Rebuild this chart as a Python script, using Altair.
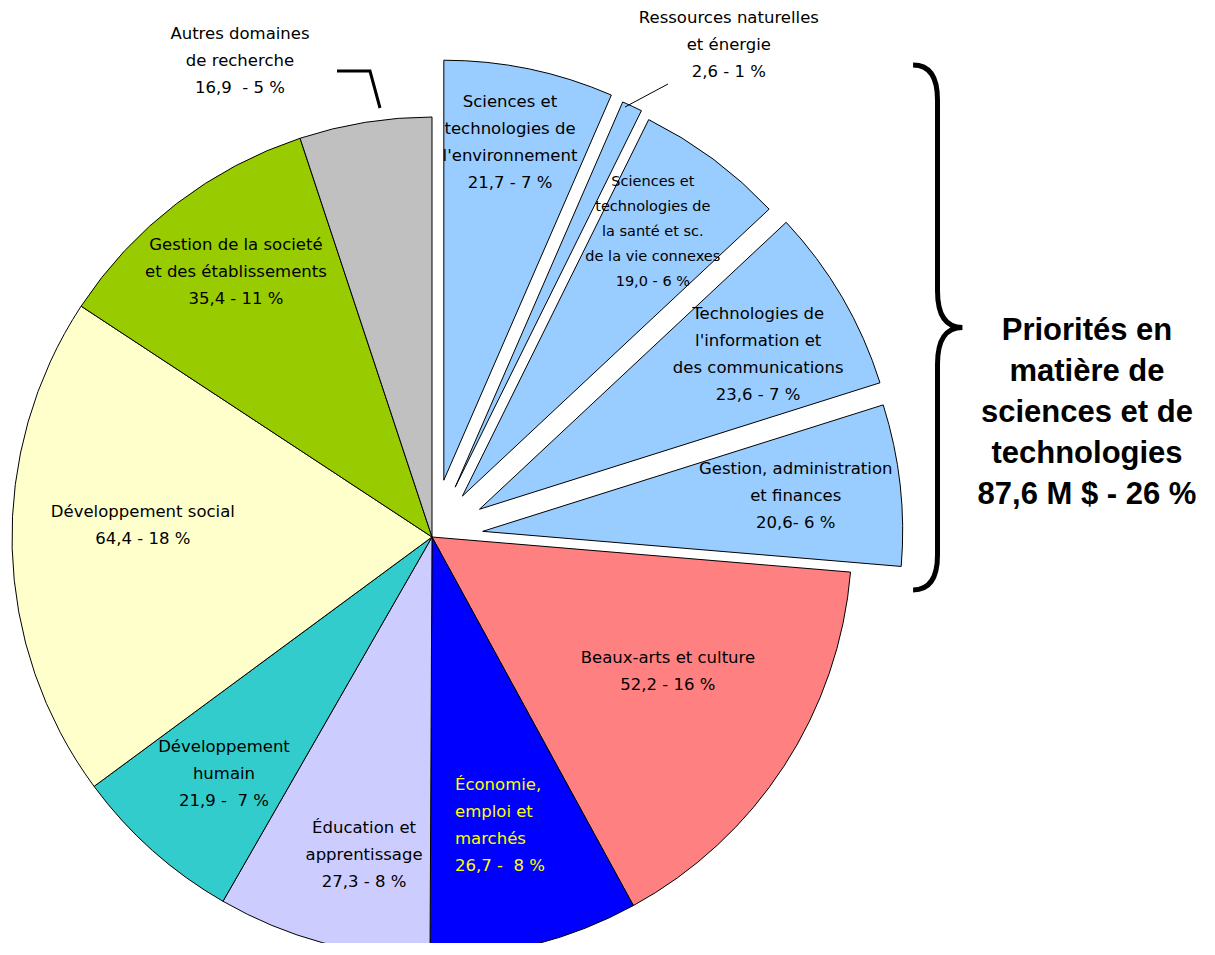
import math
import altair as alt
import pandas as pd

# ---------------- data ----------------
categories = [
    "Sciences et technologies de l'environnement",
    "Ressources naturelles et énergie",
    "Sciences et technologies de la santé et sc. de la vie connexes",
    "Technologies de l'information et des communications",
    "Gestion, administration et finances",
    "Beaux-arts et culture",
    "Économie, emploi et marchés",
    "Éducation et apprentissage",
    "Développement humain",
    "Développement social",
    "Gestion de la societé et des établissements",
    "Autres domaines de recherche",
]
values = [21.7, 2.6, 19.0, 23.6, 20.6, 52.2, 26.7, 27.3, 21.9, 64.4, 35.4, 16.9]
NB = "\u00a0"
label_texts = [
    "Sciences et\ntechnologies de\nl'environnement\n21,7 - 7 %",
    "Ressources naturelles\net énergie\n2,6 - 1 %",
    "Sciences et\ntechnologies de\nla santé et sc.\nde la vie connexes\n19,0 - 6 %",
    "Technologies de\nl'information et\ndes communications\n23,6 - 7 %",
    "Gestion, administration\net finances\n20,6- 6 %",
    "Beaux-arts et culture\n52,2 - 16 %",
    "Économie,\nemploi et\nmarchés\n26,7 -" + NB + " 8 %",
    "Éducation et\napprentissage\n27,3 - 8 %",
    "Développement\nhumain\n21,9 -" + NB + " 7 %",
    "Développement social\n64,4 - 18 %",
    "Gestion de la societé\net des établissements\n35,4 - 11 %",
    "Autres domaines\nde recherche\n16,9" + NB + " - 5 %",
]
title_lines = ["Priorités en", "matière de", "sciences et de", "technologies", "87,6 M $ - 26 %"]

# ---------------- styles / layout ----------------
colors = ["#99CCFF", "#99CCFF", "#99CCFF", "#99CCFF", "#99CCFF",
          "#FF8080", "#0000FF", "#CCCCFF", "#33CCCC", "#FFFFCC", "#99CC00", "#C0C0C0"]
YELLOW_LABEL = "Économie, emploi et marchés"
SMALL_LABELS = ["Sciences et technologies de la santé et sc. de la vie connexes"]
LEFT_LABELS = ["Économie, emploi et marchés"]
W, H, OFF = 1195, 935, 8
CX, CY, R = 432, 537, 420
# explosion distance (px) of each slice (priority S&T slices are pulled out)
EXPLODE = [58, 55, 51, 55, 51, 0, 0, 0, 0, 0, 0, 0]
LABEL_R = [0.820, 1.238, 0.776, 0.759, 0.750, 0.646, 0.690, 0.775, 0.750, 0.689, 0.784, 1.223]
LABEL_DA = [-0.67, 6.84, -0.87, 1.26, -0.08, -3.47, 9.64, -3.01, -0.38, 3.82, 0.94, -12.8]
FONT = "DejaVu Sans"
FS, LH = 16.5, 27
FS_SMALL, LH_SMALL = 14.5, 25
TITLE_CX, TITLE_CY, TITLE_LH = 1087, 412.5, 41

df = pd.DataFrame({
    "category": categories,
    "value": values,
    "order": list(range(len(values))),
    "explode": EXPLODE,
    "label": label_texts,
    "lr": LABEL_R,
    "lda": LABEL_DA,
})

xs = alt.Scale(domain=[OFF, OFF + W], range=[0, W], nice=False, zero=False)
ys = alt.Scale(domain=[OFF, OFF + H], range=[0, H], nice=False, zero=False)

base = (
    alt.Chart(df)
    .transform_window(cum="sum(value)", sort=[alt.SortField("order")], frame=[None, 0])
    .transform_joinaggregate(total="sum(value)")
    .transform_calculate(
        a0="(datum.cum - datum.value) / datum.total * 2 * PI",
        a1="datum.cum / datum.total * 2 * PI",
    )
    .transform_calculate(mid="(datum.a0 + datum.a1) / 2")
    .transform_calculate(
        cx=f"{CX} + datum.explode * sin(datum.mid)",
        cy=f"{CY} - datum.explode * cos(datum.mid)",
    )
    .transform_calculate(
        lx=f"datum.cx + datum.lr * {R} * sin(datum.mid + datum.lda * PI / 180)",
        ly=f"datum.cy - datum.lr * {R} * cos(datum.mid + datum.lda * PI / 180)",
        nlines="length(split(datum.label, '\\n'))",
    )
)

arcs = base.mark_arc(radius=R, stroke="black", strokeWidth=1).encode(
    x=alt.X("cx:Q", scale=xs, axis=None),
    y=alt.Y("cy:Q", scale=ys, axis=None),
    theta=alt.Theta("a0:Q", stack=None,
                    scale=alt.Scale(domain=[0, 2 * math.pi], range=[0, 2 * math.pi])),
    theta2="a1:Q",
    color=alt.Color("category:N", scale=alt.Scale(domain=categories, range=colors), legend=None),
)

text_color = alt.condition(alt.datum.category == YELLOW_LABEL, alt.value("#FFFF00"), alt.value("black"))


def label_layer(pred, size, lh, align):
    return (
        base.transform_filter(pred)
        .transform_calculate(ty=f"datum.ly - (datum.nlines - 1) * {lh} / 2")
        .mark_text(font=FONT, fontSize=size, lineHeight=lh, lineBreak="\n",
                   align=align, baseline="middle")
        .encode(
            x=alt.X("lx:Q", scale=xs, axis=None),
            y=alt.Y("ty:Q", scale=ys, axis=None),
            text="label:N",
            color=text_color,
        )
    )


special = SMALL_LABELS + LEFT_LABELS
labels = label_layer(~alt.FieldOneOfPredicate(field="category", oneOf=special), FS, LH, "center")
labels_small = label_layer(alt.FieldOneOfPredicate(field="category", oneOf=SMALL_LABELS),
                           FS_SMALL, LH_SMALL, "center")
labels_left = label_layer(alt.FieldOneOfPredicate(field="category", oneOf=LEFT_LABELS), FS, LH, "left")

# leader lines (annotation)
leaders_df = pd.DataFrame({
    "seg": [0, 0, 0, 1, 1],
    "i": [0, 1, 2, 0, 1],
    "x": [337, 370, 380, 668, 625],
    "y": [71, 71, 108, 84, 107],
    "w": [3, 3, 3, 1, 1],
})
leaders = alt.Chart(leaders_df).mark_line(color="black").encode(
    x=alt.X("x:Q", scale=xs, axis=None),
    y=alt.Y("y:Q", scale=ys, axis=None),
    detail="seg:N",
    order="i:Q",
    strokeWidth=alt.StrokeWidth("w:Q", scale=None, legend=None),
)

# curly brace (annotation symbol)
BRACE_PATH = ("M -0.093 -1 Q 0 -1 0 -0.867 L 0 -0.14 Q 0 0 0.095 0 "
              "Q 0 0 0 0.14 L 0 0.867 Q 0 1 -0.093 1")
brace = alt.Chart(pd.DataFrame({"bx": [937.5], "by": [327.5]})).mark_point(
    shape=BRACE_PATH, size=525 * 525, filled=False, color="black",
    strokeWidth=5, opacity=1,
).encode(
    x=alt.X("bx:Q", scale=xs, axis=None),
    y=alt.Y("by:Q", scale=ys, axis=None),
)

title_first_y = TITLE_CY - (len(title_lines) - 1) * TITLE_LH / 2
title = alt.Chart(pd.DataFrame({"tx": [TITLE_CX], "ty": [title_first_y]})).mark_text(
    text=title_lines, font="Liberation Sans", fontWeight="bold", fontSize=31,
    lineHeight=TITLE_LH, align="center", baseline="middle", color="black",
).encode(
    x=alt.X("tx:Q", scale=xs, axis=None),
    y=alt.Y("ty:Q", scale=ys, axis=None),
)

chart = (
    alt.layer(arcs, labels, labels_small, labels_left, leaders, brace, title)
    .properties(width=W, height=H, padding=0, autosize=alt.AutoSizeParams(type="none"))
    .configure_view(stroke=None)
)

chart.save("out.html", embed_options={"renderer": "svg", "actions": False})
